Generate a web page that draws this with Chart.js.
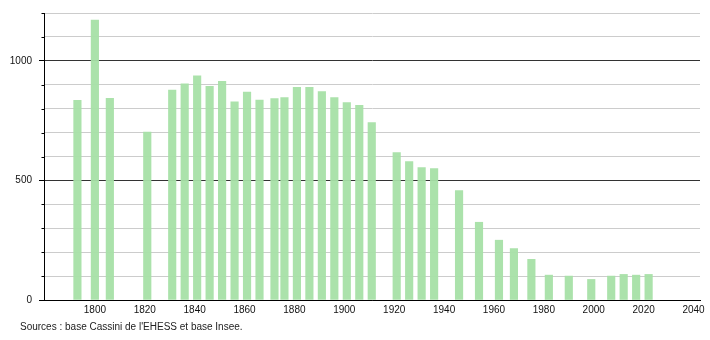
<!DOCTYPE html>
<html>
<head>
<meta charset="utf-8">
<script src="https://cdn.jsdelivr.net/npm/chart.js@4/dist/chart.umd.min.js"></script>
<style>
  html, body { margin: 0; padding: 0; background: #fff; }
  #wrap { position: relative; width: 710px; height: 340px; }
  #source {
    position: absolute; left: 20px; top: 321px;
    font: 10px "Liberation Sans", Arial, sans-serif; color: #222;
  }
</style>
</head>
<body>
<div id="wrap">
  <canvas id="popChart" width="710" height="340"></canvas>
  <div id="source">Sources : base Cassini de l'EHESS et base Insee.</div>
</div>
<script>
// census years and population
const years = [1793, 1800, 1806, 1821, 1831, 1836, 1841, 1846, 1851, 1856,
  1861, 1866, 1872, 1876, 1881, 1886, 1891, 1896, 1901, 1906, 1911,
  1921, 1926, 1931, 1936, 1946, 1954, 1962, 1968, 1975, 1982, 1990,
  1999, 2007, 2012, 2017, 2022];
const population = [835, 1170, 843, 702, 878, 904, 937, 893, 914, 829,
  869, 836, 842, 846, 889, 889, 871, 846, 825, 814, 742,
  616, 579, 554, 550, 458, 325, 250, 215, 170, 104, 100,
  86, 100, 107, 104, 107];
const yearTicks = [1800, 1820, 1840, 1860, 1880, 1900, 1920, 1940, 1960, 1980, 2000, 2020, 2040];

// draws the short minor tick marks on the y axis
const minorTicks = {
  id: 'minorTicks',
  afterDraw(chart) {
    const y = chart.scales.y;
    const ctx = chart.ctx;
    ctx.save();
    ctx.strokeStyle = '#000';
    ctx.lineWidth = 1;
    y.ticks.forEach(t => {
      if (t.value % 500 === 0) return;
      const py = Math.round(y.getPixelForValue(t.value)) + 0.5;
      ctx.beginPath();
      ctx.moveTo(y.right - 2.5, py);
      ctx.lineTo(y.right, py);
      ctx.stroke();
    });
    ctx.restore();
  }
};

Chart.defaults.font.family = '"Liberation Sans", Arial, sans-serif';
Chart.defaults.font.size = 10;
Chart.defaults.color = '#111';

new Chart(document.getElementById('popChart'), {
  type: 'bar',
  data: {
    datasets: [{
      data: years.map((yr, i) => ({ x: yr, y: population[i] })),
      backgroundColor: 'rgba(166, 224, 166, 0.95)',
      borderWidth: 0,
      barThickness: 7.5,
    }]
  },
  options: {
    responsive: false,
    animation: false,
    layout: { padding: { top: 12, right: 10, left: 0, bottom: 0 } },
    plugins: { legend: { display: false }, tooltip: { enabled: false } },
    scales: {
      x: {
        type: 'linear',
        min: 1779.6,
        max: 2042.6,
        offset: false,
        afterBuildTicks(scale) {
          scale.ticks = yearTicks.map(v => ({ value: v }));
        },
        afterFit(scale) { scale.height = 40; },
        grid: { display: false, drawTicks: false },
        border: { color: '#000', width: 1 },
        ticks: { padding: 4, maxRotation: 0, autoSkip: false, callback: v => String(v) },
      },
      y: {
        min: 0,
        max: 1200,
        afterFit(scale) { scale.width = 44; },
        ticks: {
          stepSize: 100,
          padding: 7,
          callback: v => (v % 500 === 0 ? String(v) : ''),
        },
        grid: {
          color: ctx => (ctx.tick && ctx.tick.value % 500 === 0 ? '#333' : '#cccccc'),
          lineWidth: 1,
          tickLength: 5,
          tickColor: ctx => (ctx.tick && ctx.tick.value % 500 === 0 ? '#000' : 'rgba(0,0,0,0)'),
        },
        border: { color: '#000', width: 1 },
      }
    }
  },
  plugins: [minorTicks]
});
</script>
</body>
</html>
